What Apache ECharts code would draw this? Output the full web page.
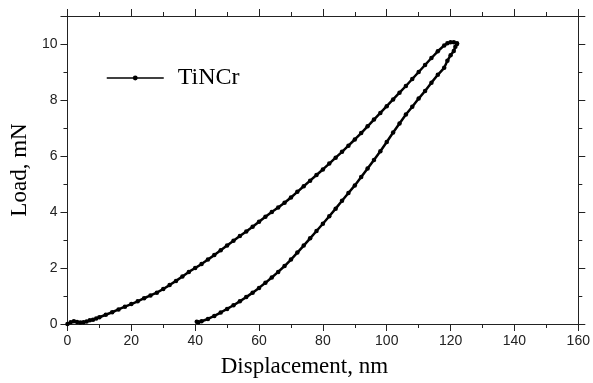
<!DOCTYPE html>
<html>
<head>
<meta charset="utf-8">
<script src="https://cdn.jsdelivr.net/npm/echarts@6/dist/echarts.min.js"></script>
<style>
html,body{margin:0;padding:0;background:#fff;}
#chart{width:593px;height:383px;}
</style>
</head>
<body>
<div id="chart"></div>
<script>
// Loading branch (displacement nm, load mN)
const loadX = [0,1,2,3,4,5,6,7,8,9,10,12,14,16,18,20,22,24,26,28,30,32,34,36,38,40,42,44,46,48,50,52,54,56,58,60,62,64,66,68,70,72,74,76,78,80,82,84,86,88,90,92,94,96,98,100,102,104,106,108,110,112,114,116,118,119,120,121,122];
const loadY = [0,0.06,0.1,0.07,0.05,0.06,0.09,0.13,0.15,0.2,0.24,0.33,0.42,0.52,0.62,0.71,0.81,0.92,1.02,1.12,1.25,1.39,1.54,1.70,1.86,2.0,2.14,2.30,2.46,2.63,2.80,2.97,3.14,3.30,3.47,3.65,3.83,4.00,4.16,4.33,4.52,4.72,4.92,5.12,5.32,5.52,5.73,5.94,6.15,6.37,6.59,6.82,7.06,7.30,7.54,7.78,8.02,8.26,8.50,8.75,9.00,9.25,9.50,9.74,9.95,10.03,10.06,10.06,10.03];
// Unloading branch
const unloadX = [122,121.5,121,120,119,118,116,114,112,110,108,106,104,102,100,98,96,94,92,90,88,86,84,82,80,78,76,74,72,70,68,66,64,62,60,58,56,54,52,50,48,46,44,42,41,40.5];
const unloadY = [10.0,9.9,9.75,9.6,9.4,9.15,8.9,8.62,8.32,8.05,7.76,7.48,7.16,6.84,6.5,6.17,5.86,5.55,5.25,4.95,4.68,4.4,4.12,3.85,3.58,3.32,3.06,2.8,2.55,2.3,2.07,1.86,1.66,1.47,1.29,1.12,0.96,0.81,0.67,0.54,0.41,0.29,0.18,0.1,0.06,0.08];
const seriesName = 'TiNCr';
const xTitle = 'Displacement, nm';
const yTitle = 'Load, mN';

const data = [];
loadX.forEach((x, i) => data.push([x, loadY[i]]));
unloadX.forEach((x, i) => data.push([x, unloadY[i]]));

const axisColor = '#222';
const tickLabel = {color: '#222', fontFamily: 'Liberation Sans, Arial, sans-serif', fontSize: 14};
const serif = 'Liberation Serif, Times New Roman, serif';

const chart = echarts.init(document.getElementById('chart'), null, {renderer: 'canvas'});
chart.setOption({
  backgroundColor: '#fff',
  animation: false,
  grid: {left: 66.7, right: 14.7, top: 16, bottom: 55.3, containLabel: false},
  legend: {
    data: [seriesName],
    left: 101, top: 61,
    itemWidth: 57, itemHeight: 6,
    itemGap: 0,
    lineStyle: {width: 1.5, color: '#000'},
    itemStyle: {color: '#000'},
    textStyle: {fontFamily: serif, fontSize: 24, color: '#000', padding: [0, 0, 0, 9]}
  },
  xAxis: [{
    type: 'value', min: 0, max: 160, interval: 20, position: 'bottom',
    name: xTitle, nameLocation: 'middle', nameGap: 31,
    nameTextStyle: {fontFamily: serif, fontSize: 23, color: '#000', padding: [0, 37, 0, 0]},
    axisLine: {show: true, onZero: false, lineStyle: {color: axisColor, width: 1}},
    axisTick: {show: true, inside: false, length: 7, lineStyle: {color: axisColor}},
    minorTick: {show: true, splitNumber: 2, length: 4, lineStyle: {color: axisColor}},
    axisLabel: Object.assign({margin: 10}, tickLabel),
    splitLine: {show: false}
  }, {
    type: 'value', min: 0, max: 160, interval: 20, position: 'top',
    axisLine: {show: true, onZero: false, lineStyle: {color: axisColor, width: 1}},
    axisTick: {show: true, inside: false, length: 7, lineStyle: {color: axisColor}},
    minorTick: {show: true, splitNumber: 2, length: 4, lineStyle: {color: axisColor}},
    axisLabel: {show: false},
    splitLine: {show: false}
  }],
  yAxis: [{
    type: 'value', min: 0, max: 11, interval: 2, position: 'left',
    name: yTitle, nameLocation: 'middle', nameGap: 34, nameRotate: 90,
    nameTextStyle: {fontFamily: serif, fontSize: 23, color: '#000'},
    axisLine: {show: true, onZero: false, lineStyle: {color: axisColor, width: 1}},
    axisTick: {show: true, inside: false, length: 7, lineStyle: {color: axisColor}},
    minorTick: {show: true, splitNumber: 2, length: 4, lineStyle: {color: axisColor}},
    axisLabel: Object.assign({margin: 10, showMaxLabel: false}, tickLabel),
    splitLine: {show: false}
  }, {
    type: 'value', min: 0, max: 11, interval: 2, position: 'right',
    axisLine: {show: true, onZero: false, lineStyle: {color: axisColor, width: 1}},
    axisTick: {show: true, inside: false, length: 7, lineStyle: {color: axisColor}},
    minorTick: {show: true, splitNumber: 2, length: 4, lineStyle: {color: axisColor}},
    axisLabel: {show: false},
    splitLine: {show: false}
  }],
  series: [{
    name: seriesName, type: 'line', data: data,
    xAxisIndex: 0, yAxisIndex: 0,
    symbol: 'circle', symbolSize: 4.5, showSymbol: true,
    lineStyle: {color: '#000', width: 2.5},
    itemStyle: {color: '#000'},
    smooth: false
  }]
});
</script>
</body>
</html>
